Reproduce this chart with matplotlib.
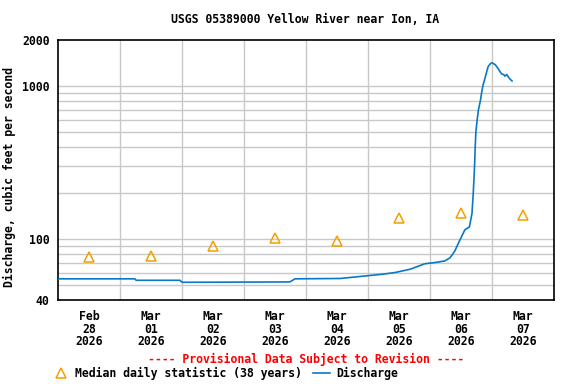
import matplotlib
matplotlib.use("Agg")
import matplotlib.pyplot as plt
from matplotlib.lines import Line2D
from matplotlib.ticker import FixedLocator, NullFormatter
import pandas as pd

# ---- data ----
discharge_times = [
    "2026-02-28 00:00", "2026-03-01 05:45", "2026-03-01 06:15", "2026-03-01 23:15",
    "2026-03-02 00:00", "2026-03-03 17:45", "2026-03-03 19:45", "2026-03-04 13:15",
    "2026-03-04 21:00", "2026-03-05 05:45", "2026-03-05 10:30", "2026-03-05 16:15",
    "2026-03-05 22:00", "2026-03-06 02:30", "2026-03-06 05:45", "2026-03-06 07:45",
    "2026-03-06 09:30", "2026-03-06 11:30", "2026-03-06 13:30", "2026-03-06 15:15",
    "2026-03-06 16:15", "2026-03-06 16:45", "2026-03-06 17:15", "2026-03-06 17:30",
    "2026-03-06 17:45", "2026-03-06 18:15", "2026-03-06 18:45", "2026-03-06 19:30",
    "2026-03-06 20:00", "2026-03-06 20:30", "2026-03-06 21:15", "2026-03-06 22:00",
    "2026-03-06 22:30", "2026-03-06 23:30", "2026-03-07 00:00", "2026-03-07 01:15",
    "2026-03-07 02:15", "2026-03-07 03:00", "2026-03-07 03:45", "2026-03-07 04:30",
    "2026-03-07 05:00", "2026-03-07 05:45", "2026-03-07 06:15", "2026-03-07 07:00",
    "2026-03-07 07:45",
]
discharge_cfs = [
    55, 55, 53.8, 53.8,
    52.2, 52.5, 55, 55.3,
    57, 59, 60.5, 63.5,
    69, 70.5, 72, 75.5,
    83, 98, 115, 120,
    147, 200, 300, 400,
    500, 600, 700, 800,
    910, 1010, 1120, 1250,
    1340, 1410, 1420, 1380,
    1310, 1250, 1200, 1190,
    1160, 1190, 1150, 1110,
    1080,
]
median_dates = ["2026-02-28 12:00", "2026-03-01 12:00", "2026-03-02 12:00", "2026-03-03 12:00",
                "2026-03-04 12:00", "2026-03-05 12:00", "2026-03-06 12:00", "2026-03-07 12:00"]
median_cfs = [76.5, 77, 90, 102, 97, 137, 149, 143]
tick_labels = ["Feb\n28\n2026", "Mar\n01\n2026", "Mar\n02\n2026", "Mar\n03\n2026",
               "Mar\n04\n2026", "Mar\n05\n2026", "Mar\n06\n2026", "Mar\n07\n2026"]
y_tick_values = [40, 100, 1000, 2000]

# ---- plot ----
W, H = 576, 384
fig = plt.figure(figsize=(W / 100, H / 100), dpi=100)
ax = fig.add_axes([58 / W, 1 - 300 / H, (554 - 58) / W, (300 - 40) / H])

mono = "DejaVu Sans Mono"
fs = 8.3
line_color = "#0a78c8"
tri_color = "#f5a000"
grid_color = "#c8c8c8"

t = pd.to_datetime(discharge_times)
md = pd.to_datetime(median_dates)

ax.set_yscale("log")
ax.set_ylim(40, 2000)
ax.set_xlim(pd.Timestamp("2026-02-28 00:00"), pd.Timestamp("2026-03-08 00:00"))

# grid
minor_vals = [v * m for m in (10, 100, 1000) for v in range(1, 10)]
minor_vals = [v for v in minor_vals if 40 < v < 2000]
for v in minor_vals:
    ax.axhline(v, color=grid_color, lw=1, zorder=0)
for d in pd.date_range("2026-03-01", "2026-03-07", freq="D"):
    ax.axvline(d, color=grid_color, lw=1, zorder=0)

ax.plot(t, discharge_cfs, color=line_color, lw=1.2, zorder=3)
ax.plot(md, median_cfs, linestyle="none", marker="^", markersize=7.5,
        markerfacecolor="none", markeredgecolor=tri_color, markeredgewidth=1.1, zorder=4)

ax.yaxis.set_major_locator(FixedLocator(y_tick_values))
ax.yaxis.set_minor_locator(FixedLocator([]))
ax.yaxis.set_minor_formatter(NullFormatter())
ax.set_yticklabels([str(v) for v in y_tick_values], fontfamily=mono, fontweight="bold", fontsize=fs)
ax.set_xticks(md)
ax.set_xticklabels(tick_labels, fontfamily=mono, fontweight="bold", fontsize=fs, linespacing=0.98)
ax.tick_params(axis="both", length=0)
ax.tick_params(axis="y", pad=6)
ax.tick_params(axis="x", pad=7)

for s in ax.spines.values():
    s.set_color("black")
    s.set_linewidth(1.2)

ax.set_ylabel("Discharge, cubic feet per second", fontfamily=mono, fontweight="bold", fontsize=fs)
ax.yaxis.set_label_coords((16 - 58) / (554 - 58), (300 - 177) / 260)

fig.text(305.5 / W, 1 - 19.5 / H, "USGS 05389000 Yellow River near Ion, IA",
         ha="center", va="center", fontfamily=mono, fontweight="bold", fontsize=fs)
fig.text(306 / W, 1 - 359 / H, "---- Provisional Data Subject to Revision ----",
         ha="center", va="center", color="red", fontfamily=mono, fontweight="bold", fontsize=fs)

# legend
ly = 1 - 373 / H
fig.add_artist(Line2D([60.5 / W], [ly], marker="^", markersize=7.5, markerfacecolor="none",
                      markeredgecolor=tri_color, markeredgewidth=1.1, linestyle="none"))
fig.text(75 / W, ly, "Median daily statistic (38 years)", ha="left", va="center",
         fontfamily=mono, fontweight="bold", fontsize=fs)
fig.add_artist(Line2D([313 / W, 330 / W], [ly, ly], color=line_color, lw=1.2))
fig.text(336.5 / W, ly, "Discharge", ha="left", va="center",
         fontfamily=mono, fontweight="bold", fontsize=fs)

fig.savefig("out.png", dpi=100)
